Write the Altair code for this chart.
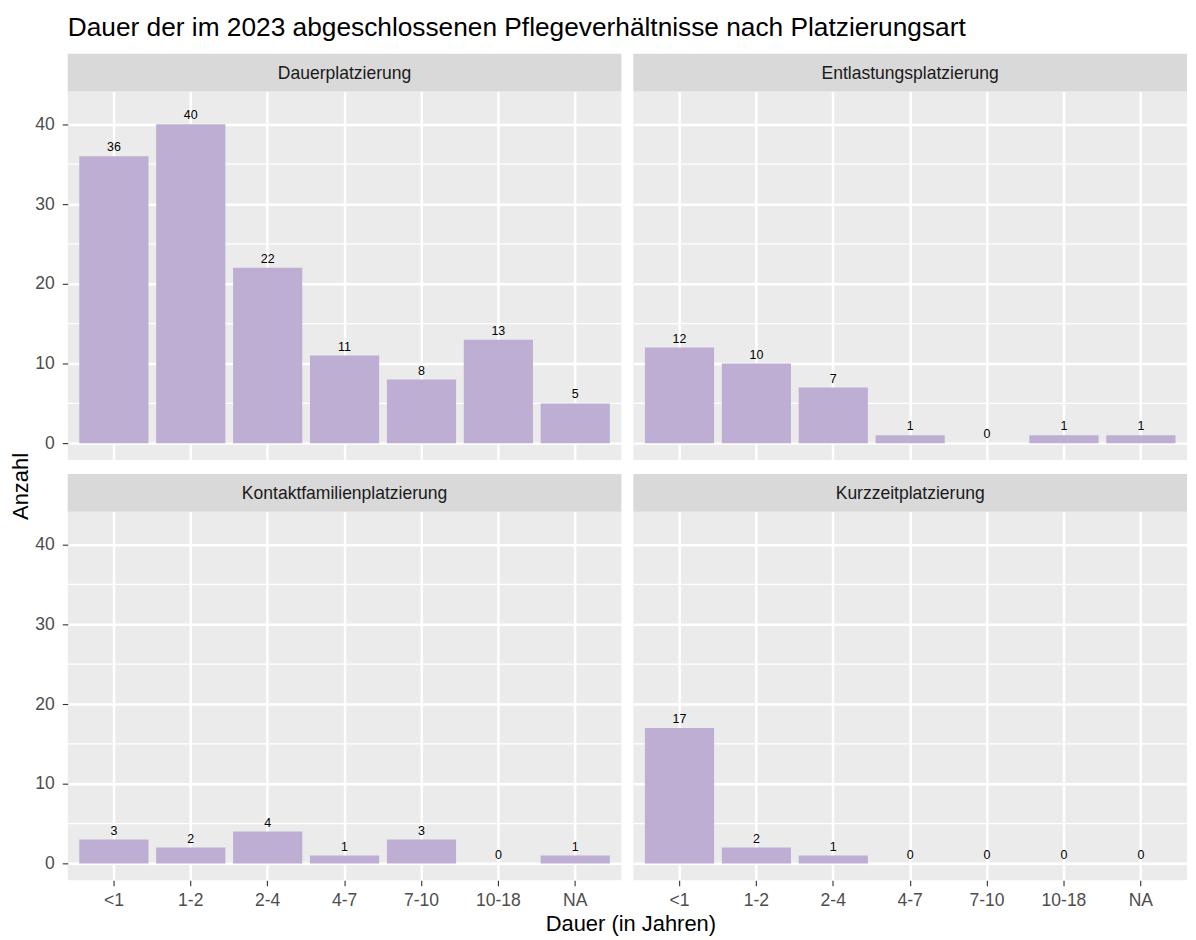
import altair as alt
import pandas as pd

# ---- data -------------------------------------------------------------
categories = ["<1", "1-2", "2-4", "4-7", "7-10", "10-18", "NA"]
panels = ["Dauerplatzierung", "Entlastungsplatzierung",
          "Kontaktfamilienplatzierung", "Kurzzeitplatzierung"]
dauer_counts = [36, 40, 22, 11, 8, 13, 5]
entlastung_counts = [12, 10, 7, 1, 0, 1, 1]
kontakt_counts = [3, 2, 4, 1, 3, 0, 1]
kurzzeit_counts = [17, 2, 1, 0, 0, 0, 0]
major_ticks = [0, 10, 20, 30, 40]
minor_ticks = [5, 15, 25, 35]

title_text = "Dauer der im 2023 abgeschlossenen Pflegeverhältnisse nach Platzierungsart"
x_title = "Dauer (in Jahren)"
y_title = "Anzahl"

# ---- style ------------------------------------------------------------
FONT = "Liberation Sans"
BAR = "#BEAED4"
PANEL_BG = "#EBEBEB"
STRIP_BG = "#D9D9D9"
W, H, STRIP_H = 556, 370, 38
GAP = 12
Y_DOMAIN = [-2.1, 44.1]


def panel(name, counts, show_x, show_y):
    df = pd.DataFrame({"dauer": categories, "n": counts})
    minor_df = pd.DataFrame({"v": minor_ticks})

    x_scale = alt.Scale(domain=categories, paddingInner=0.1, paddingOuter=0.15)
    y_scale = alt.Scale(domain=Y_DOMAIN, nice=False, zero=False)

    if show_x:
        x_axis = alt.Axis(title=x_title if name == panels[2] else None,
                          titleX=W + 9, titleY=50, titleAlign="center",
                          titleBaseline="alphabetic",
                          labelAngle=0, grid=True, bandPosition=0.5,
                          labelPadding=6)
    else:
        x_axis = alt.Axis(title=None, labels=False, ticks=False, grid=True,
                          bandPosition=0.5)
    if show_y:
        y_axis = alt.Axis(values=major_ticks, grid=True,
                          title=y_title if name == panels[0] else None,
                          titleX=-40, titleY=396, titleAlign="center",
                          titleBaseline="alphabetic", labelPadding=8)
    else:
        y_axis = alt.Axis(values=major_ticks, grid=True, labels=False,
                          ticks=False, title=None)

    base = alt.Chart(df)
    bars = base.mark_bar(color=BAR).encode(
        x=alt.X("dauer:N", sort=categories, scale=x_scale, axis=x_axis),
        y=alt.Y("n:Q", scale=y_scale, axis=y_axis),
    )
    minor = alt.Chart(minor_df).mark_rule(color="white", strokeWidth=1.3).encode(
        y=alt.Y("v:Q", scale=y_scale)
    )
    labels = base.mark_text(baseline="bottom", dy=-2, fontSize=12.5,
                            font=FONT, color="black").encode(
        x=alt.X("dauer:N", sort=categories, scale=x_scale),
        y=alt.Y("n:Q", scale=y_scale),
        text="n:Q",
    )
    strip_df = pd.DataFrame({"label": [name]})
    strip_bg = alt.Chart(strip_df).mark_rect(color=STRIP_BG).encode(
        x=alt.value(0), x2=alt.value(W),
        y=alt.value(-STRIP_H), y2=alt.value(0),
    )
    strip_txt = alt.Chart(strip_df).mark_text(
        fontSize=17.6, font=FONT, color="#1A1A1A", baseline="middle", align="center"
    ).encode(
        text="label:N", x=alt.value(W / 2), y=alt.value(-STRIP_H / 2 + 1)
    )
    return alt.layer(minor, bars, labels, strip_bg, strip_txt).properties(
        width=W, height=H,
        view=alt.ViewBackground(fill=PANEL_BG, stroke=None),
    )


p1 = panel(panels[0], dauer_counts, False, True)
p2 = panel(panels[1], entlastung_counts, False, False)
p3 = panel(panels[2], kontakt_counts, True, True)
p4 = panel(panels[3], kurzzeit_counts, True, False)

chart = alt.concat(
    p1, p2, p3, p4, columns=2, bounds="flush",
    spacing={"row": GAP + STRIP_H + 2, "column": GAP},
).properties(
    title=alt.TitleParams(title_text, fontSize=26.4, font=FONT,
                          fontWeight="normal", anchor="start", frame="group",
                          color="black", offset=12),
    padding={"left": 2, "top": 5, "right": 0, "bottom": 0},
).configure_axis(
    labelFont=FONT, titleFont=FONT, titleFontWeight="normal",
    titleFontSize=22, titleColor="black",
    labelColor="#4D4D4D", labelFontSize=17.6,
    tickColor="#333333", tickSize=5.5, tickWidth=1.1,
    domain=False, gridColor="white", gridWidth=2.5,
).configure_view(stroke=None)

chart.save("out.html", embed_options={"renderer": "svg", "actions": False})
